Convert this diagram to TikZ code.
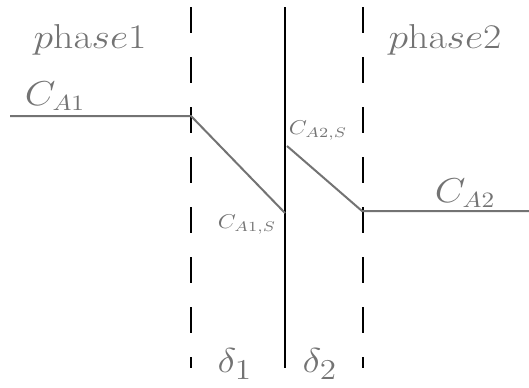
\documentclass[tikz,border=0pt]{standalone}
\usepackage{amsmath}
\usetikzlibrary{positioning}
\begin{document}
\begin{tikzpicture}[
    x=0.5pt, y=-0.5pt,
    wall/.style={line width=1.2pt, black},
    film/.style={wall, dash pattern=on 13pt off 12pt},
    conc/.style={line width=1pt, draw=black!55},
    lbl/.style={text=black!55, inner sep=0pt, xscale=1.15},
    big/.style={lbl, font=\fontsize{16}{18}\selectfont},
    small/.style={lbl, font=\normalsize}
]
\useasboundingbox (0,0) rectangle (529,387);
% film boundaries and interface
\coordinate (f1top) at (191,7);
\coordinate (f1bot) at (191,368);
\coordinate (itop) at (285,7);
\coordinate (ibot) at (285,368);
\coordinate (f2top) at (363,7);
\coordinate (f2bot) at (363,368);
\draw[film] (f1top) -- (f1bot);
\draw[wall] (itop) -- (ibot);
\draw[film] (f2top) -- (f2bot);
% concentration profile
\coordinate (a1) at (10,116);
\coordinate (a1e) at (191,116);
\coordinate (s1) at (285,213);
\coordinate (s2) at (287,146);
\coordinate (a2e) at (362,211);
\coordinate (a2) at (529,211);
\draw[conc] (a1) -- (a1e) -- (s1);
\draw[conc] (s2) -- (a2e) -- (a2);
% labels
\node[big] (ph1) at (90,40) {$p\mathrm{ha}se1$};
\node[big] (ph2) at (445,40) {$p\mathrm{ha}se2$};
\node[big] (ca1) at (55,96) {$C_{A1}$};
\node[big] (ca2) at (465,193) {$C_{A2}$};
\node[small] (cs1) at (247,225) {$C_{A1,S}$};
\node[small] (cs2) at (318,131) {$C_{A2,S}$};
\node[big, font=\fontsize{19}{21}\selectfont] (d1) at (235,364) {$\delta_1$};
\node[big, font=\fontsize{19}{21}\selectfont] (d2) at (320,364) {$\delta_2$};
\end{tikzpicture}
\end{document}
